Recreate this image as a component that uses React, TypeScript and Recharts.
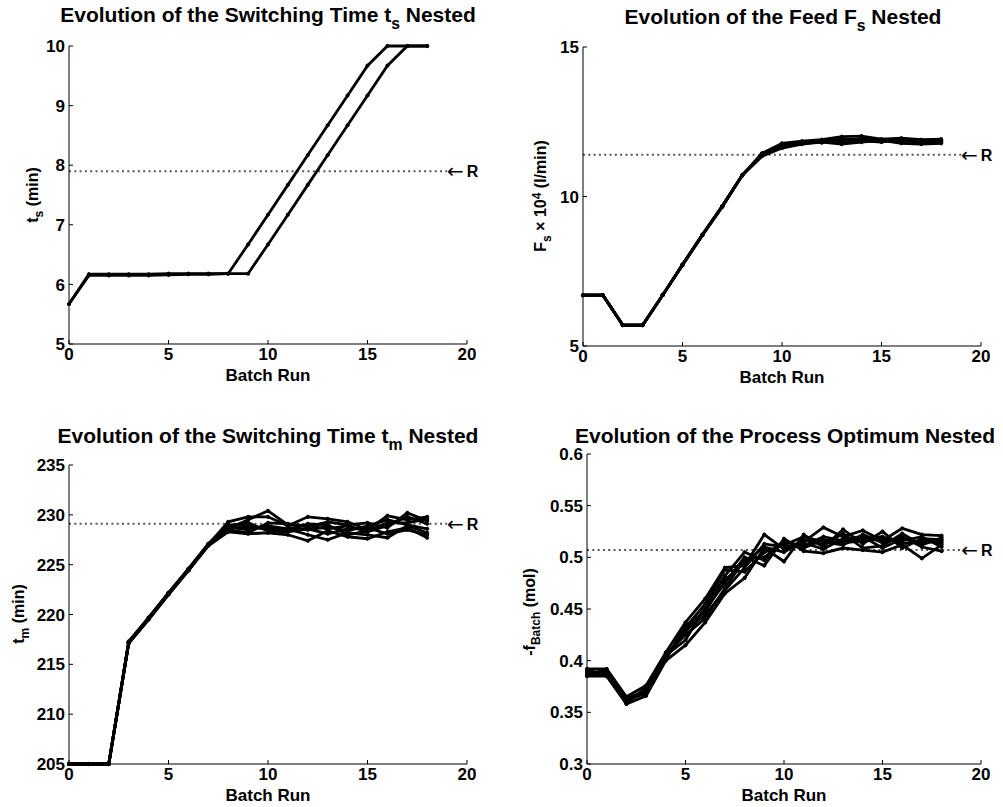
import React from 'react'
import { LineChart, Line, XAxis, YAxis, ReferenceLine } from 'recharts'

const FONT = '"Liberation Sans", Arial, Helvetica, sans-serif'

// batch index (x axis)
const batchRuns = [0, 1, 2, 3, 4, 5, 6, 7, 8, 9, 10, 11, 12, 13, 14, 15, 16, 17, 18]
const xTicks = [0, 5, 10, 15, 20]
const refEnd = 19

// switching time t_s
const tsRuns = [
  [5.67, 6.17, 6.17, 6.17, 6.17, 6.18, 6.18, 6.18, 6.18, 6.67, 7.17, 7.67, 8.17, 8.67, 9.17, 9.67, 10, 10, 10],
  [5.67, 6.15, 6.15, 6.15, 6.15, 6.16, 6.17, 6.17, 6.18, 6.18, 6.67, 7.17, 7.67, 8.17, 8.67, 9.17, 9.67, 10, 10],
]
const tsTicks = [5, 6, 7, 8, 9, 10]
const tsRef = 7.9

// feed F_s x 10^4
const fsRuns = [
  [6.7, 6.7, 5.7, 5.7, 6.7, 7.72, 8.72, 9.67, 10.71, 11.45, 11.78, 11.85, 11.9, 12.0, 12.02, 11.92, 11.95, 11.9, 11.92],
  [6.7, 6.7, 5.7, 5.7, 6.7, 7.7, 8.7, 9.65, 10.7, 11.35, 11.62, 11.75, 11.82, 11.75, 11.82, 11.88, 11.78, 11.75, 11.78],
  [6.7, 6.7, 5.7, 5.7, 6.7, 7.72, 8.72, 9.68, 10.71, 11.4, 11.7, 11.8, 11.86, 11.92, 11.9, 11.85, 11.88, 11.82, 11.88],
  [6.7, 6.7, 5.7, 5.7, 6.7, 7.73, 8.73, 9.68, 10.72, 11.38, 11.66, 11.76, 11.84, 11.8, 11.95, 11.9, 11.84, 11.86, 11.82],
  [6.7, 6.7, 5.7, 5.7, 6.7, 7.71, 8.71, 9.67, 10.7, 11.42, 11.72, 11.82, 11.8, 11.88, 11.86, 11.82, 11.92, 11.8, 11.85],
]
const fsTicks = [5, 10, 15]
const fsRef = 11.4

// switching time t_m
const tmRuns = [
  [205, 205, 205, 217.2, 219.6, 222.1, 224.5, 227.0, 229.3, 229.8, 229.8, 228.9, 229.8, 229.6, 229.3, 228.5, 229.9, 229.5, 229.8],
  [205, 205, 205, 217.2, 219.6, 222.1, 224.5, 227.0, 228.6, 229.5, 230.4, 229.0, 228.8, 229.3, 229.0, 229.2, 228.7, 230.2, 229.4],
  [205, 205, 205, 217.1, 219.5, 222.0, 224.4, 226.9, 228.3, 228.1, 228.2, 228.0, 227.4, 228.4, 227.8, 227.6, 228.3, 228.7, 227.7],
  [205, 205, 205, 217.2, 219.6, 222.1, 224.5, 227.0, 228.8, 228.5, 228.9, 228.6, 228.0, 227.5, 228.2, 228.0, 227.7, 228.9, 228.2],
  [205, 205, 205, 217.3, 219.7, 222.2, 224.6, 227.1, 229.0, 228.9, 228.5, 228.7, 228.5, 228.8, 228.4, 228.9, 229.5, 229.0, 228.6],
  [205, 205, 205, 217.2, 219.6, 222.1, 224.5, 227.0, 228.5, 228.2, 229.2, 229.1, 228.9, 228.6, 228.9, 228.3, 228.9, 229.8, 229.1],
  [205, 205, 205, 217.2, 219.6, 222.1, 224.5, 227.0, 228.9, 229.2, 228.4, 228.3, 228.6, 228.1, 228.6, 228.7, 228.1, 228.5, 228.0],
  [205, 205, 205, 217.1, 219.5, 222.0, 224.4, 226.9, 228.7, 228.7, 228.7, 228.4, 229.1, 229.0, 228.0, 228.4, 229.2, 229.2, 229.6],
]
const tmTicks = [205, 210, 215, 220, 225, 230, 235]
const tmRef = 229.1

// process optimum -f_Batch
const fbRuns = [
  [0.392, 0.392, 0.365, 0.376, 0.408, 0.437, 0.46, 0.49, 0.492, 0.522, 0.508, 0.515, 0.529, 0.52, 0.526, 0.516, 0.528, 0.522, 0.521],
  [0.385, 0.385, 0.358, 0.366, 0.4, 0.415, 0.437, 0.465, 0.48, 0.509, 0.496, 0.522, 0.51, 0.527, 0.513, 0.525, 0.509, 0.518, 0.517],
  [0.388, 0.39, 0.362, 0.37, 0.404, 0.428, 0.45, 0.475, 0.5, 0.492, 0.518, 0.506, 0.504, 0.509, 0.507, 0.505, 0.512, 0.499, 0.512],
  [0.389, 0.388, 0.36, 0.372, 0.402, 0.432, 0.455, 0.488, 0.486, 0.505, 0.512, 0.52, 0.515, 0.512, 0.522, 0.514, 0.52, 0.51, 0.506],
  [0.387, 0.391, 0.364, 0.368, 0.406, 0.425, 0.441, 0.47, 0.498, 0.5, 0.515, 0.511, 0.52, 0.516, 0.518, 0.52, 0.513, 0.516, 0.514],
  [0.39, 0.387, 0.359, 0.374, 0.401, 0.434, 0.447, 0.478, 0.495, 0.51, 0.505, 0.517, 0.512, 0.523, 0.509, 0.511, 0.523, 0.512, 0.519],
  [0.386, 0.389, 0.361, 0.369, 0.405, 0.42, 0.452, 0.482, 0.505, 0.497, 0.516, 0.509, 0.517, 0.514, 0.516, 0.518, 0.516, 0.52, 0.51],
  [0.391, 0.386, 0.363, 0.371, 0.403, 0.43, 0.444, 0.468, 0.49, 0.513, 0.51, 0.514, 0.508, 0.518, 0.52, 0.509, 0.518, 0.514, 0.516],
]
const fbTicks = [0.3, 0.35, 0.4, 0.45, 0.5, 0.55, 0.6]
const fbRef = 0.507

const Y_W = 70
const TOP_M = 12
const RIGHT_M = 30
const X_H = 44
const TICK_LEN = 4
const X_GAP = 4
const Y_GAP = 4

function buildRows(runs: number[][]) {
  return batchRuns.map((b, i) => {
    const row: Record<string, number> = { batch: b }
    runs.forEach((run, k) => {
      row[`run${k}`] = run[i]
    })
    return row
  })
}

// bottom axis: label below, short tick pointing into the plot
function BottomTick(props: any) {
  const { x, y, payload } = props
  const axisY = y - X_GAP
  return (
    <g>
      <line x1={x} y1={axisY} x2={x} y2={axisY - TICK_LEN} stroke="#000" />
      <text x={x} y={y} dy="0.72em" textAnchor="middle" fill="#000" fontSize={17} fontWeight={700} fontFamily={FONT}>
        {payload.value}
      </text>
    </g>
  )
}

function LeftTick(props: any) {
  const { x, y, payload } = props
  const axisX = x + Y_GAP
  return (
    <g>
      <line x1={axisX} y1={y} x2={axisX + TICK_LEN} y2={y} stroke="#000" />
      <text x={x} y={y} dy="0.36em" textAnchor="end" fill="#000" fontSize={17} fontWeight={700} fontFamily={FONT}>
        {payload.value}
      </text>
    </g>
  )
}

function TopTick(props: any) {
  const { x, y } = props
  return <line x1={x} y1={y} x2={x} y2={y + TICK_LEN} stroke="#000" />
}

function RightTick(props: any) {
  const { x, y } = props
  return <line x1={x} y1={y} x2={x - TICK_LEN} y2={y} stroke="#000" />
}

function RefLabel(props: any) {
  const { viewBox } = props
  const x = viewBox.x + viewBox.width
  const y = viewBox.y
  return (
    <text x={x} y={y + 6} fill="#000">
      <tspan fontFamily="DejaVu Sans" fontSize={20} dy={1}>←</tspan>
      <tspan dx={3} dy={-1} fontFamily={FONT} fontSize={16} fontWeight="bold">R</tspan>
    </text>
  )
}

interface PanelProps {
  left: number
  top: number
  plotWidth: number
  plotHeight: number
  runs: number[][]
  yDomain: [number, number]
  yTicks: number[]
  refValue: number
}

function Panel({ left, top, plotWidth, plotHeight, runs, yDomain, yTicks, refValue }: PanelProps) {
  const data = buildRows(runs)
  const width = Y_W + plotWidth + RIGHT_M
  const height = TOP_M + plotHeight + X_H
  return (
    <div style={{ position: 'absolute', left: left - Y_W, top: top - TOP_M, width, height }}>
      <LineChart width={width} height={height} data={data} margin={{ top: TOP_M, right: RIGHT_M, bottom: 0, left: 0 }}>
        <XAxis
          type="number"
          dataKey="batch"
          domain={[0, 20]}
          ticks={xTicks}
          interval={0}
          height={X_H}
          tickSize={0}
          tickMargin={X_GAP}
          tick={<BottomTick />}
          axisLine={{ stroke: '#000' }}
          tickLine={false}
          label={{ value: 'Batch Run', position: 'insideBottom', offset: 7, fill: '#000', fontSize: 17, fontWeight: 700, fontFamily: FONT }}
        />
        <XAxis
          xAxisId="top"
          orientation="top"
          type="number"
          dataKey="batch"
          domain={[0, 20]}
          ticks={xTicks}
          interval={0}
          height={0}
          tickSize={0}
          tickMargin={0}
          tick={<TopTick />}
          axisLine={{ stroke: '#000' }}
          tickLine={false}
        />
        <YAxis
          type="number"
          domain={yDomain}
          ticks={yTicks}
          interval={0}
          width={Y_W}
          tickSize={0}
          tickMargin={Y_GAP}
          tick={<LeftTick />}
          axisLine={{ stroke: '#000' }}
          tickLine={false}
        />
        <YAxis
          yAxisId="right"
          orientation="right"
          type="number"
          domain={yDomain}
          ticks={yTicks}
          interval={0}
          width={0}
          tickSize={0}
          tickMargin={0}
          tick={<RightTick />}
          axisLine={{ stroke: '#000' }}
          tickLine={false}
        />
        <ReferenceLine
          segment={[{ x: 0, y: refValue }, { x: refEnd, y: refValue }]}
          stroke="#555"
          strokeWidth={2}
          strokeDasharray="2 3.3"
          label={<RefLabel />}
        />
        {runs.map((_, k) => (
          <Line
            key={k}
            type="linear"
            dataKey={`run${k}`}
            stroke="#000"
            strokeWidth={2.8}
            dot={{ r: 1.6, fill: '#000', stroke: '#000', strokeWidth: 1 }}
            isAnimationActive={false}
          />
        ))}
      </LineChart>
    </div>
  )
}

const subStyle: React.CSSProperties = { fontSize: '0.75em', position: 'relative', top: '0.45em' }
const supStyle: React.CSSProperties = { fontSize: '0.75em', position: 'relative', top: '-0.45em' }

function Title({ cx, baseline, children }: { cx: number; baseline: number; children: React.ReactNode }) {
  return (
    <div
      style={{
        position: 'absolute',
        left: cx - 260,
        width: 520,
        top: baseline - 18,
        textAlign: 'center',
        fontFamily: FONT,
        fontWeight: 700,
        fontSize: 21,
        lineHeight: '21px',
        whiteSpace: 'nowrap',
      }}
    >
      {children}
    </div>
  )
}

function YLabel({ cx, cy, children }: { cx: number; cy: number; children: React.ReactNode }) {
  return (
    <div
      style={{
        position: 'absolute',
        left: cx,
        top: cy,
        transform: 'translate(-50%, -50%) rotate(-90deg)',
        fontFamily: FONT,
        fontWeight: 700,
        fontSize: 16,
        lineHeight: '16px',
        whiteSpace: 'nowrap',
      }}
    >
      {children}
    </div>
  )
}

export default function App() {
  return (
    <div style={{ position: 'absolute', left: 0, top: 0, width: 1003, height: 807, background: '#fff', color: '#000' }}>
      <Title cx={268} baseline={22}>
        Evolution of the Switching Time t<span style={subStyle}>s</span> Nested
      </Title>
      <Title cx={783} baseline={24}>
        Evolution of the Feed F<span style={subStyle}>s</span> Nested
      </Title>
      <Title cx={268} baseline={443}>
        Evolution of the Switching Time t<span style={subStyle}>m</span> Nested
      </Title>
      <Title cx={785} baseline={443}>
        Evolution of the Process Optimum Nested
      </Title>

      <YLabel cx={33} cy={195}>
        t<span style={subStyle}>s</span> (min)
      </YLabel>
      <YLabel cx={541} cy={196}>
        F<span style={subStyle}>s</span> × 10<span style={supStyle}>4</span> (l/min)
      </YLabel>
      <YLabel cx={19} cy={614}>
        t<span style={subStyle}>m</span> (min)
      </YLabel>
      <YLabel cx={530} cy={612}>
        -f<span style={subStyle}>Batch</span> (mol)
      </YLabel>

      <Panel left={69} top={46} plotWidth={398} plotHeight={298} runs={tsRuns} yDomain={[5, 10]} yTicks={tsTicks} refValue={tsRef} />
      <Panel left={583} top={47} plotWidth={398} plotHeight={299} runs={fsRuns} yDomain={[5, 15]} yTicks={fsTicks} refValue={fsRef} />
      <Panel left={69} top={465} plotWidth={398} plotHeight={299} runs={tmRuns} yDomain={[205, 235]} yTicks={tmTicks} refValue={tmRef} />
      <Panel left={587} top={454} plotWidth={394} plotHeight={310} runs={fbRuns} yDomain={[0.3, 0.6]} yTicks={fbTicks} refValue={fbRef} />
    </div>
  )
}
